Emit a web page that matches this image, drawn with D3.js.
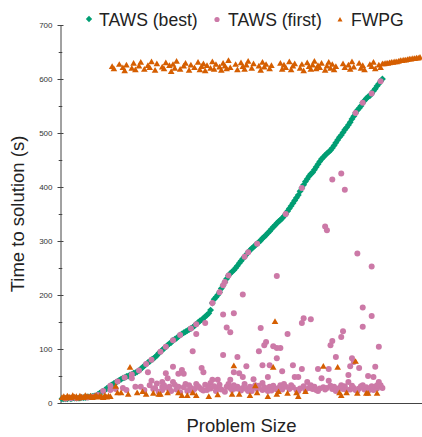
<!DOCTYPE html>
<html>
<head>
<meta charset="utf-8">
<script src="https://cdn.jsdelivr.net/npm/d3@7"></script>
<style>
  html, body { margin: 0; padding: 0; background: #fff; }
  svg { display: block; font-family: "Liberation Sans", Arial, sans-serif; }
</style>
</head>
<body>
<svg id="chart" width="422" height="437"></svg>
<script>
// ---- Data (problem index on x, time in seconds on y) ----
const seriesNames = ["TAWS (best)", "TAWS (first)", "FWPG"];
const yTicks = [0, 100, 200, 300, 400, 500, 600, 700];
const yMinorTicks = [50, 150, 250, 350, 450, 550, 650];

// TAWS (best): one value per problem index 0..179
const bestTimes = [
  8,8,8,8,9,8,9,9,9,9,
  9,10,10,10,11,11,12,12,13,13,
  16,18,20,22,24,27,29,32,34,36,
  38,40,42,44,46,47,49,50,52,53,
  55,56,58,60,63,66,69,72,75,77,
  80,82,85,88,92,95,98,101,104,107,
  110,112,116,118,120,123,126,128,130,132,
  134,136,138,140,143,146,149,152,154,157,
  160,163,166,172,185,192,196,200,205,212,
  218,224,230,236,240,243,246,250,254,259,
  263,267,271,275,279,283,286,289,292,295,
  298,301,305,308,311,315,318,322,326,329,
  333,336,339,342,346,350,355,360,365,370,
  375,380,385,392,398,404,410,415,420,424,
  427,432,437,442,447,452,455,459,462,465,
  468,472,477,482,487,492,496,501,506,510,
  515,520,526,531,537,542,546,550,556,560,
  564,567,569,573,578,582,587,591,596,600
];

// TAWS (first): [problem index, time]
const firstPoints = [
  [2,8],[5,9],[8,9],[11,10],[14,10],[16,11],[18,12],[20,15],
  [23,22],[27,32],[31,40],[35,47],[39,53],[43,60],[47,72],[50,80],[55,95],[58,104],
  [62,116],[66,126],[72,138],[75,146],[84,185],[88,205],[90,218],[91,224],[93,236],
  [102,271],[104,279],[109,295],[125,350],[134,398],[164,537],[168,556],[173,573],[178,596],
  [101,201],[90,164],[96,166],[80,148],[92,140],[94,131],[75,128],[73,96],[111,139],
  [98,85],[103,68],[110,96],[114,113],[113,107],[120,102],[62,67],[67,61],[78,65],
  [68,54],[79,57],[58,55],[59,46],[50,41],[99,55],[101,48],[107,44],[116,70],[120,83],
  [87,43],[94,43],[90,89],[112,70],[65,54],[96,57],[84,43],[62,39],[56,39],[69,35],
  [75,35],[83,37],[93,35],[98,30],[112,37],[115,48],[116,30],[56,30],[59,28],[65,30],
  [72,28],[77,28],[87,28],[101,28],[109,26],[108,33],[112,24],[81,24],
  [118,105],[122,102],[150,107],[151,115],[153,85],[162,83],[163,76],[161,68],[166,65],
  [177,104],[129,70],[134,63],[143,63],[149,63],[175,67],[123,59],[130,48],[132,48],
  [160,52],[171,50],[174,48],[145,46],[137,39],[149,41],[160,39],[177,39],[173,31],[178,33],
  [121,28],[123,25],[125,30],[127,26],[129,29],[131,24],[133,27],[135,31],[136,25],
  [138,28],[140,26],[141,30],[142,24],[144,27],[146,29],[147,25],[148,28],[151,26],
  [152,30],[154,24],[155,28],[157,26],[158,31],[161,25],[163,28],[164,24],[166,27],
  [167,31],[169,25],[170,29],[172,26],[174,24],[175,30],[176,27],[179,28],
  [168,177],[173,161],[168,141],[135,157],[134,148],[139,155],[126,128],[157,133],[156,122],
  [151,414],[156,425],[158,395],[147,327],[148,320],[165,277],[173,253],[120,235],
  [39,46],[44,30],[46,24],[52,28],[56,24],[34,28],[27,24],[30,26],[36,24],[41,30],[48,57],
  [61,22],[64,25],[70,22],[74,26],[79,23],[83,27],[86,22],[89,25],[92,30],[95,24],
  [97,27],[100,23],[103,26],[105,30],[106,22],[114,26],[117,23],[119,27],
  [49,33],[51,26],[53,36],[54,21],[57,33],[60,30],[63,34],[66,20],[68,29],[71,33],
  [73,22],[76,31],[78,25],[80,34],[82,29],[85,31],[88,34],[91,21],[94,28],[96,33],
  [99,26],[102,35],[104,22],[107,29],[110,32],[113,29],[115,22],[118,32],[120,25],[122,33],
  [124,35],[128,33],[132,22],[139,33],[143,22],[150,32],[153,22],[156,33],[159,24],
  [162,32],[165,22],[168,33],[171,22],[176,33]
];

// FWPG: one value per problem index 0..200
const fwpgTimes = [
  9,11,8,12,10,9,13,10,11,8,
  12,10,9,13,11,10,12,9,11,13,
  10,12,11,9,13,10,12,11,622,618,
  30,18,626,18,620,614,625,15,65,619,
  628,616,18,623,630,20,617,15,624,620,
  631,17,615,627,15,15,621,618,629,18,
  624,613,626,619,632,18,617,13,623,628,
  13,615,625,18,620,13,630,616,622,627,
  614,624,11,619,631,617,626,14,621,615,
  628,623,618,633,620,15,68,626,616,15,
  629,622,617,625,632,13,619,627,31,18,
  623,615,630,621,626,11,618,624,65,150,
  15,20,628,617,625,620,17,631,616,623,
  627,18,11,619,626,614,20,629,622,617,
  625,632,618,624,620,628,67,615,623,630,
  619,626,616,622,65,18,13,627,620,18,
  625,617,631,621,76,17,628,619,624,616,
  17,17,626,622,630,618,17,625,620,627,
  627,628,628,629,630,630,631,631,632,633,
  633,634,634,635,636,636,637,637,638,638,639
];

// ---- Chart ----
const colors = ["#009E73", "#CC79A7", "#D55E00"];
const svg = d3.select("#chart");

const x = d3.scaleLinear().domain([0, 200]).range([62, 420]);
const y = d3.scaleLinear().domain([0, 700]).range([403, 25]);

const diamond = {
  draw(ctx, size) {
    const r = Math.sqrt(size / 2);
    ctx.moveTo(0, -r); ctx.lineTo(r, 0); ctx.lineTo(0, r); ctx.lineTo(-r, 0); ctx.closePath();
  }
};
const diamondPath = d3.symbol().type(diamond).size(24)();
const trianglePath = d3.symbol().type(d3.symbolTriangle).size(19)();

// axes
const axisColor = "#444";
svg.append("line")
  .attr("x1", 58).attr("x2", 422).attr("y1", y(0) + 0.5).attr("y2", y(0) + 0.5)
  .attr("stroke", axisColor).attr("stroke-width", 1.2);

const yAxisG = svg.append("g").attr("transform", "translate(60.5,0)")
  .call(d3.axisLeft(y).tickValues(yTicks).tickSize(3).tickPadding(5).tickSizeOuter(0));
yAxisG.select(".domain").attr("stroke", axisColor);
yAxisG.selectAll(".tick line").attr("x1", 3).attr("stroke", axisColor);
yAxisG.selectAll(".tick text").attr("font-size", 8).attr("fill", "#333")
  .attr("font-family", "'Liberation Sans', Arial, sans-serif");

const yMinorG = svg.append("g").attr("transform", "translate(60.5,0)")
  .call(d3.axisLeft(y).tickValues(yMinorTicks).tickSize(1.8).tickFormat(""));
yMinorG.select(".domain").remove();
yMinorG.selectAll(".tick line").attr("x1", 1.8).attr("stroke", axisColor);

// marks
svg.append("g").selectAll("path")
  .data(bestTimes)
  .join("path")
  .attr("d", diamondPath)
  .attr("transform", (d, i) => `translate(${x(i)},${y(d)})`)
  .attr("fill", colors[0]);

svg.append("g").selectAll("circle")
  .data(firstPoints)
  .join("circle")
  .attr("cx", d => x(d[0]))
  .attr("cy", d => y(d[1]))
  .attr("r", 3)
  .attr("fill", colors[1]);

svg.append("g").selectAll("path")
  .data(fwpgTimes)
  .join("path")
  .attr("d", trianglePath)
  .attr("transform", (d, i) => `translate(${x(i)},${y(d)})`)
  .attr("fill", colors[2]);

// titles
svg.append("text")
  .attr("x", 241.5).attr("y", 432)
  .attr("text-anchor", "middle")
  .attr("font-size", 18.5).attr("fill", "#222")
  .text("Problem Size");

svg.append("text")
  .attr("transform", "translate(24,214) rotate(-90)")
  .attr("text-anchor", "middle")
  .attr("font-size", 18.5).attr("fill", "#222")
  .text("Time to solution (s)");

// legend
const legend = [
  { name: seriesNames[0], mx: 89, tx: 99, shape: "diamond" },
  { name: seriesNames[1], mx: 217, tx: 228, shape: "circle" },
  { name: seriesNames[2], mx: 340, tx: 351, shape: "triangle" }
];
const lg = svg.append("g");
legend.forEach((l, k) => {
  if (l.shape === "circle") {
    lg.append("circle").attr("cx", l.mx).attr("cy", 19.5).attr("r", 2.6).attr("fill", colors[k]);
  } else if (l.shape === "diamond") {
    lg.append("path").attr("d", d3.symbol().type(diamond).size(20)())
      .attr("transform", `translate(${l.mx},19)`).attr("fill", colors[k]);
  } else {
    lg.append("path").attr("d", d3.symbol().type(d3.symbolTriangle).size(11)())
      .attr("transform", `translate(${l.mx},20)`).attr("fill", colors[k]);
  }
  lg.append("text").attr("x", l.tx).attr("y", 26)
    .attr("font-size", 17.6).attr("fill", "#222").text(l.name);
});
</script>
</body>
</html>
